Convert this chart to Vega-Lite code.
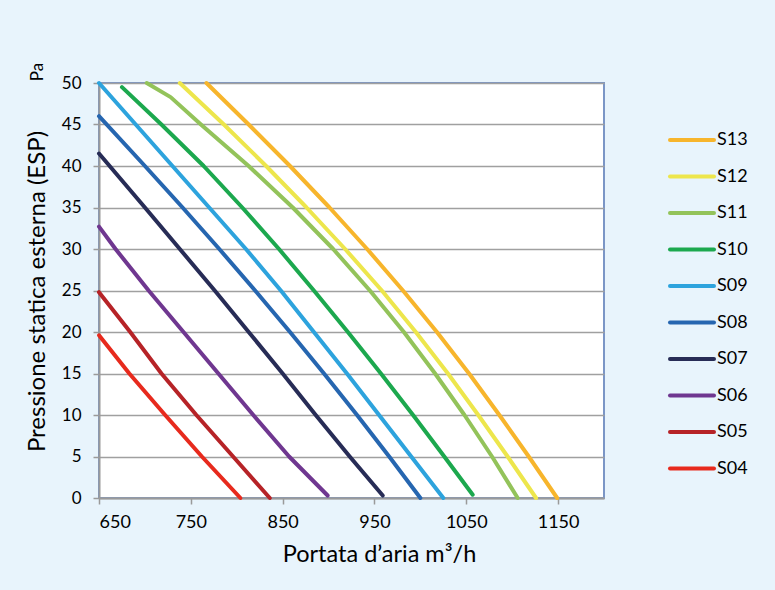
{
  "$schema": "https://vega.github.io/schema/vega-lite/v6.json",
  "width": 505,
  "height": 415,
  "autosize": {"type": "none"},
  "padding": {"left": 99, "top": 83, "right": 171, "bottom": 92},
  "background": "#E8F4FC",
  "config": {
    "font": "Lato",
    "view": {"fill": "white", "stroke": "#7B96C6", "strokeWidth": 2},
    "axis": {
      "labelFont": "Lato",
      "titleFont": "Lato",
      "labelColor": "#000000",
      "titleColor": "#000000",
      "titleFontWeight": "normal",
      "domainColor": "#9A9A9A",
      "domainWidth": 2,
      "tickColor": "#9A9A9A",
      "tickWidth": 1.5,
      "tickSize": 6,
      "gridColor": "#A0A0A0",
      "gridWidth": 1.5
    }
  },
  "layer": [
    {
      "data": {
        "values": [
          {"serie": "S13", "portata": 767, "pressione": 50},
          {"serie": "S13", "portata": 813, "pressione": 45},
          {"serie": "S13", "portata": 858, "pressione": 40},
          {"serie": "S13", "portata": 901, "pressione": 35},
          {"serie": "S13", "portata": 942, "pressione": 30},
          {"serie": "S13", "portata": 981, "pressione": 25},
          {"serie": "S13", "portata": 1018, "pressione": 20},
          {"serie": "S13", "portata": 1053, "pressione": 15},
          {"serie": "S13", "portata": 1086, "pressione": 10},
          {"serie": "S13", "portata": 1118, "pressione": 5},
          {"serie": "S13", "portata": 1149, "pressione": 0},
          {"serie": "S12", "portata": 738, "pressione": 50},
          {"serie": "S12", "portata": 786, "pressione": 45},
          {"serie": "S12", "portata": 832, "pressione": 40},
          {"serie": "S12", "portata": 876, "pressione": 35},
          {"serie": "S12", "portata": 918, "pressione": 30},
          {"serie": "S12", "portata": 958, "pressione": 25},
          {"serie": "S12", "portata": 995, "pressione": 20},
          {"serie": "S12", "portata": 1030, "pressione": 15},
          {"serie": "S12", "portata": 1063, "pressione": 10},
          {"serie": "S12", "portata": 1095, "pressione": 5},
          {"serie": "S12", "portata": 1126, "pressione": 0},
          {"serie": "S11", "portata": 702, "pressione": 50},
          {"serie": "S11", "portata": 728, "pressione": 48.3},
          {"serie": "S11", "portata": 761, "pressione": 45},
          {"serie": "S11", "portata": 813, "pressione": 40},
          {"serie": "S11", "portata": 861, "pressione": 35},
          {"serie": "S11", "portata": 905, "pressione": 30},
          {"serie": "S11", "portata": 945, "pressione": 25},
          {"serie": "S11", "portata": 982, "pressione": 20},
          {"serie": "S11", "portata": 1016, "pressione": 15},
          {"serie": "S11", "portata": 1048, "pressione": 10},
          {"serie": "S11", "portata": 1078, "pressione": 5},
          {"serie": "S11", "portata": 1106, "pressione": 0},
          {"serie": "S10", "portata": 675, "pressione": 49.5},
          {"serie": "S10", "portata": 718, "pressione": 45},
          {"serie": "S10", "portata": 764, "pressione": 40},
          {"serie": "S10", "portata": 806, "pressione": 35},
          {"serie": "S10", "portata": 846, "pressione": 30},
          {"serie": "S10", "portata": 884, "pressione": 25},
          {"serie": "S10", "portata": 921, "pressione": 20},
          {"serie": "S10", "portata": 957, "pressione": 15},
          {"serie": "S10", "portata": 992, "pressione": 10},
          {"serie": "S10", "portata": 1026, "pressione": 5},
          {"serie": "S10", "portata": 1057, "pressione": 0.4},
          {"serie": "S09", "portata": 650, "pressione": 50},
          {"serie": "S09", "portata": 690, "pressione": 45},
          {"serie": "S09", "portata": 730, "pressione": 40},
          {"serie": "S09", "portata": 770, "pressione": 35},
          {"serie": "S09", "portata": 810, "pressione": 30},
          {"serie": "S09", "portata": 848, "pressione": 25},
          {"serie": "S09", "portata": 884, "pressione": 20},
          {"serie": "S09", "portata": 920, "pressione": 15},
          {"serie": "S09", "portata": 955, "pressione": 10},
          {"serie": "S09", "portata": 990, "pressione": 5},
          {"serie": "S09", "portata": 1025, "pressione": 0},
          {"serie": "S08", "portata": 650, "pressione": 46},
          {"serie": "S08", "portata": 700, "pressione": 40},
          {"serie": "S08", "portata": 741, "pressione": 35},
          {"serie": "S08", "portata": 781, "pressione": 30},
          {"serie": "S08", "portata": 820, "pressione": 25},
          {"serie": "S08", "portata": 858, "pressione": 20},
          {"serie": "S08", "portata": 895, "pressione": 15},
          {"serie": "S08", "portata": 931, "pressione": 10},
          {"serie": "S08", "portata": 966, "pressione": 5},
          {"serie": "S08", "portata": 1000, "pressione": 0},
          {"serie": "S07", "portata": 650, "pressione": 41.5},
          {"serie": "S07", "portata": 700, "pressione": 35},
          {"serie": "S07", "portata": 738, "pressione": 30},
          {"serie": "S07", "portata": 776, "pressione": 25},
          {"serie": "S07", "portata": 813, "pressione": 20},
          {"serie": "S07", "portata": 850, "pressione": 15},
          {"serie": "S07", "portata": 886, "pressione": 10},
          {"serie": "S07", "portata": 923, "pressione": 5},
          {"serie": "S07", "portata": 959, "pressione": 0.3},
          {"serie": "S06", "portata": 650, "pressione": 32.7},
          {"serie": "S06", "portata": 668, "pressione": 30},
          {"serie": "S06", "portata": 704, "pressione": 25},
          {"serie": "S06", "portata": 742, "pressione": 20},
          {"serie": "S06", "portata": 780, "pressione": 15},
          {"serie": "S06", "portata": 818, "pressione": 10},
          {"serie": "S06", "portata": 857, "pressione": 5},
          {"serie": "S06", "portata": 899, "pressione": 0.3},
          {"serie": "S05", "portata": 650, "pressione": 24.8},
          {"serie": "S05", "portata": 684, "pressione": 20},
          {"serie": "S05", "portata": 718, "pressione": 15},
          {"serie": "S05", "portata": 756, "pressione": 10},
          {"serie": "S05", "portata": 796, "pressione": 5},
          {"serie": "S05", "portata": 836, "pressione": 0},
          {"serie": "S04", "portata": 650, "pressione": 19.6},
          {"serie": "S04", "portata": 683, "pressione": 15},
          {"serie": "S04", "portata": 722, "pressione": 10},
          {"serie": "S04", "portata": 762, "pressione": 5},
          {"serie": "S04", "portata": 804, "pressione": 0}
        ]
      },
      "mark": {"type": "line", "strokeWidth": 4, "strokeCap": "round", "strokeJoin": "round"},
      "encoding": {
        "x": {
          "field": "portata",
          "type": "quantitative",
          "scale": {"domain": [650, 1200], "nice": false, "zero": false},
          "axis": {
            "values": [650, 750, 850, 950, 1050, 1150],
            "format": "d",
            "grid": false,
            "labelFontSize": 18,
            "labelPadding": 9,
            "title": "Portata d’aria m³/h",
            "titleFontSize": 23.5,
            "titleX": 280,
            "titleY": 63,
            "titleBaseline": "alphabetic",
            "titleAlign": "center"
          }
        },
        "y": {
          "field": "pressione",
          "type": "quantitative",
          "scale": {"domain": [0, 50], "nice": false},
          "axis": {
            "values": [0, 5, 10, 15, 20, 25, 30, 35, 40, 45, 50],
            "grid": true,
            "labelFontSize": 17,
            "labelPadding": 12,
            "title": "Pressione statica esterna (ESP)",
            "titleFontSize": 24,
            "titleX": -62,
            "titleY": 208,
            "titleAngle": 270,
            "titleBaseline": "middle",
            "titleAlign": "center"
          }
        },
        "color": {
          "field": "serie",
          "type": "nominal",
          "scale": {
            "domain": ["S13", "S12", "S11", "S10", "S09", "S08", "S07", "S06", "S05", "S04"],
            "range": ["#F7B52C", "#EDE64C", "#93C35A", "#1CA84E", "#2DA3DD", "#2666B0", "#272C56", "#6F3790", "#B62327", "#E72A1D"]
          },
          "legend": {
            "orient": "none",
            "legendX": 569,
            "legendY": 33,
            "title": null,
            "symbolType": "stroke",
            "symbolSize": 1936,
            "symbolStrokeWidth": 4,
            "labelFontSize": 18,
            "labelFont": "Lato",
            "labelColor": "#000000",
            "labelOffset": 1,
            "rowPadding": 3.5,
            "padding": 0,
            "encode": {"symbols": {"update": {"strokeCap": {"value": "round"}}}}
          }
        }
      }
    },
    {
      "data": {"values": [{"unita": "Pa"}]},
      "mark": {"type": "text", "angle": 270, "fontSize": 17, "font": "Lato", "color": "#000000", "dx": 11, "dy": -61, "clip": false},
      "encoding": {
        "x": {"datum": 650, "type": "quantitative"},
        "y": {"datum": 50, "type": "quantitative"},
        "text": {"field": "unita"}
      }
    }
  ]
}
